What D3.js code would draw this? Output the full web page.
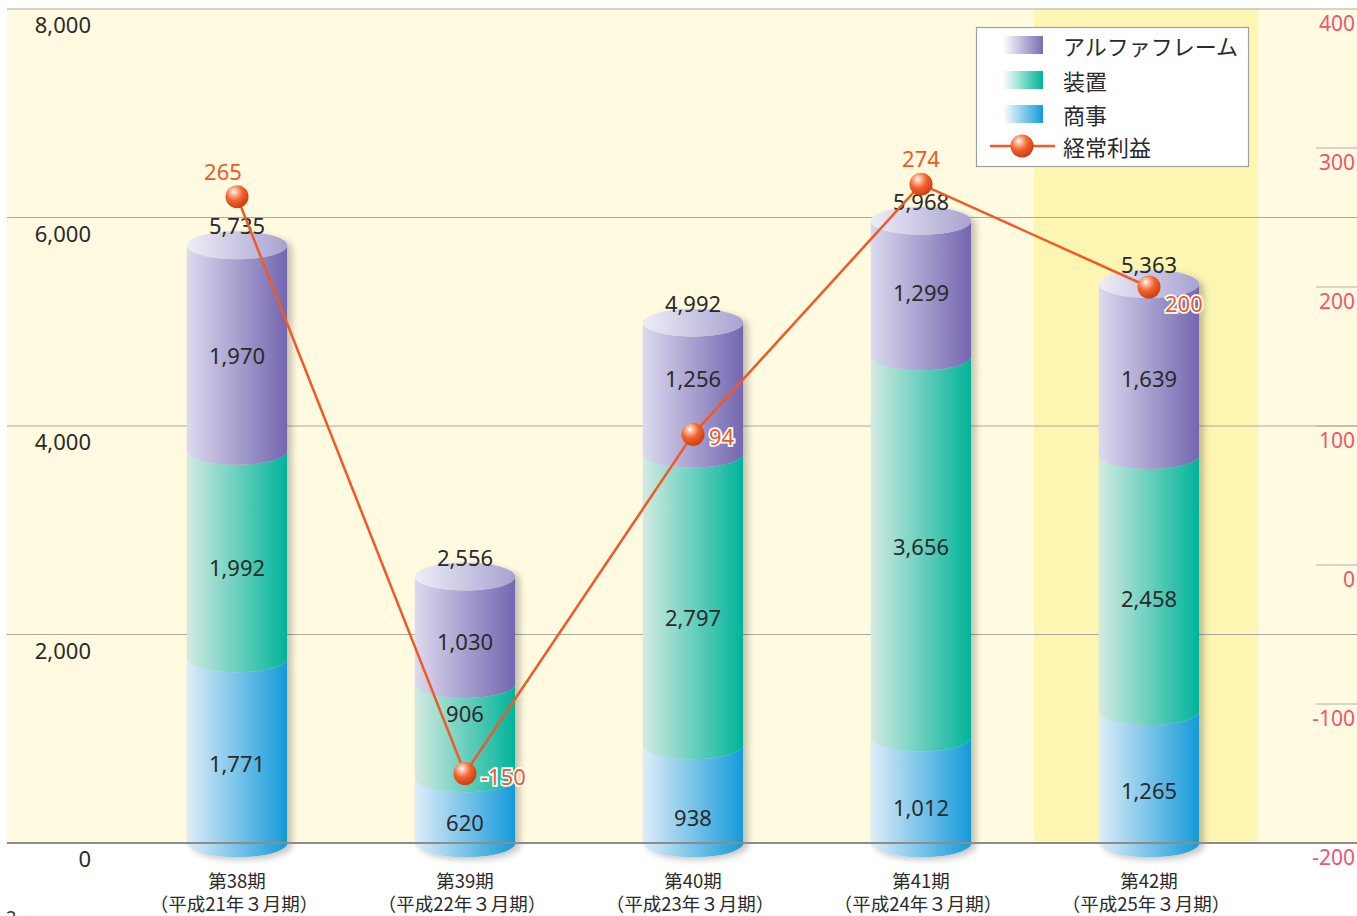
<!DOCTYPE html>
<html><head><meta charset="utf-8">
<script src="https://cdn.jsdelivr.net/npm/d3@7"></script>
<style>
html,body{margin:0;padding:0;background:#fff;}
svg{display:block;}
</style></head>
<body>
<svg id="c" width="1357" height="916"></svg>
<script>
// ---- data ----
const periods = ["第38期","第39期","第40期","第41期","第42期"];
const subLabels = ["（平成21年３月期）","（平成22年３月期）","（平成23年３月期）","（平成24年３月期）","（平成25年３月期）"];
const shoji = [1771, 620, 938, 1012, 1265];        // 商事
const souchi = [1992, 906, 2797, 3656, 2458];      // 装置
const alpha = [1970, 1030, 1256, 1299, 1639];      // アルファフレーム
const totals = [5735, 2556, 4992, 5968, 5363];
const keijo = [265, -150, 94, 274, 200];           // 経常利益
const leftTicks = [0, 2000, 4000, 6000, 8000];
const rightTicks = [-200, -100, 0, 100, 200, 300, 400];
const seriesNames = ["アルファフレーム","装置","商事","経常利益"];
// layout-only: label placement / vertical nudges of segment labels (px)
const profitLabelPlacement = ["top","right","right","top","rightLow"];
const nudgeShoji = [12, 11, 23, 17, 13];
const nudgeSouchi = [12, -18, 18, -1, 15];
const nudgeAlpha = [7, 11, -10, 3, 9];

// ---- layout ----
const svg = d3.select("#c");
const plotL = 7, plotR = 1357, plotT = 9, plotB = 843;
const y = d3.scaleLinear().domain([0, 8000]).range([plotB, plotT]);
const y2 = d3.scaleLinear().domain([-200, 400]).range([plotB, plotT]);
const x = d3.scaleBand().domain(periods).range([123, 1263]).padding(0);
const cx = p => x(p) + x.bandwidth() / 2;
const barW = x.bandwidth() * 0.44, rx = barW / 2, ry = 14;
const numFmt = d3.format(",");
const numFont = "'Noto Sans', 'DejaVu Sans', sans-serif";
const jpFont = "'Noto Sans CJK JP', sans-serif";

const defs = svg.append("defs");
function hGrad(id, c0, c1) {
  const g = defs.append("linearGradient").attr("id", id).attr("x1", "0").attr("x2", "1").attr("y1", "0").attr("y2", "0");
  g.append("stop").attr("offset", "0").attr("stop-color", c0);
  g.append("stop").attr("offset", "1").attr("stop-color", c1);
}
hGrad("gPurple", "#dcdaee", "#7466b0");
hGrad("gTeal", "#d3ebe2", "#00b49a");
hGrad("gBlue", "#deedf9", "#149ad9");
hGrad("gCap", "#eeedf7", "#a7a2d0");
hGrad("lPurple", "#ffffff", "#7a6db4");
hGrad("lTeal", "#ffffff", "#00b49a");
hGrad("lBlue", "#ffffff", "#149ad9");
const rg = defs.append("radialGradient").attr("id", "sphere").attr("cx", "0.38").attr("cy", "0.32").attr("r", "0.68").attr("fx","0.36").attr("fy","0.28");
rg.append("stop").attr("offset", "0").attr("stop-color", "#ffffff");
rg.append("stop").attr("offset", "0.22").attr("stop-color", "#fbb79a");
rg.append("stop").attr("offset", "0.55").attr("stop-color", "#f2622c");
rg.append("stop").attr("offset", "1").attr("stop-color", "#cf3d12");
const sh = defs.append("filter").attr("id", "shadow").attr("x", "-20%").attr("y", "-10%").attr("width", "150%").attr("height", "130%");
sh.append("feDropShadow").attr("dx", 5).attr("dy", 3).attr("stdDeviation", 3).attr("flood-color", "#000").attr("flood-opacity", 0.22);

// background
svg.append("rect").attr("x", plotL).attr("y", plotT).attr("width", plotR - plotL).attr("height", plotB - plotT).attr("fill", "#fffae0");
svg.append("rect").attr("x", x(periods[4]) - 1).attr("y", plotT).attr("width", x.bandwidth() - 4).attr("height", plotB - plotT).attr("fill", "#fdf5b2");

// gridlines
svg.append("g").selectAll("line").data(leftTicks.filter(t => t > 0)).join("line")
  .attr("x1", plotL).attr("x2", plotR).attr("y1", d => y(d)).attr("y2", d => y(d))
  .attr("stroke", "#a9a9a4").attr("stroke-width", 1.2);
// right short ticks
svg.append("g").selectAll("line").data(rightTicks.filter(t => t > -200 && t < 400)).join("line")
  .attr("x1", 1316).attr("x2", plotR).attr("y1", d => y2(d)).attr("y2", d => y2(d))
  .attr("stroke", "#b0b0aa").attr("stroke-width", 1.2);

// left axis labels
svg.append("g").selectAll("text").data(leftTicks).join("text")
  .attr("x", 91).attr("y", d => y(d) + 24).attr("text-anchor", "end")
  .attr("font-family", numFont).attr("font-size", 22).attr("fill", "#2a2a2a")
  .text(d => numFmt(d));
// right axis labels
svg.append("g").selectAll("text").data(rightTicks).join("text")
  .attr("x", 1355).attr("y", d => y2(d) + 22).attr("text-anchor", "end")
  .attr("font-family", numFont).attr("font-size", 21).attr("fill", "#ee5570")
  .text(d => d);

// cylinders
const data = periods.map((p, i) => ({ p, i, segs: [
  { v: shoji[i], fill: "url(#gBlue)", n: nudgeShoji[i] },
  { v: souchi[i], fill: "url(#gTeal)", n: nudgeSouchi[i] },
  { v: alpha[i], fill: "url(#gPurple)", n: nudgeAlpha[i] }
]}));
function segPath(c, yTop, yBot) {
  const l = c - rx, r = c + rx;
  return `M${l},${yTop} A${rx},${ry} 0 0 0 ${r},${yTop} L${r},${yBot} A${rx},${ry} 0 0 1 ${l},${yBot} Z`;
}
const bars = svg.append("g").selectAll("g").data(data).join("g");
bars.each(function(d) {
  const g = d3.select(this);
  const c = cx(d.p);
  const gg = g.append("g").attr("filter", "url(#shadow)");
  let acc = 0;
  const stacks = d.segs.map(s => { const o = { ...s, y0: acc, y1: acc + s.v }; acc += s.v; return o; });
  stacks.forEach(s => {
    gg.append("path").attr("d", segPath(c, y(s.y1), y(s.y0))).attr("fill", s.fill);
  });
  const top = y(acc);
  gg.append("ellipse").attr("cx", c).attr("cy", top).attr("rx", rx).attr("ry", ry).attr("fill", "url(#gCap)");
  stacks.forEach(s => {
    g.append("text").attr("x", c).attr("y", (y(s.y1) + y(s.y0)) / 2 + s.n)
      .attr("text-anchor", "middle").attr("dominant-baseline", "central")
      .attr("font-family", numFont).attr("font-size", 22).attr("fill", "#2a2a2a")
      .text(numFmt(s.v));
  });
  g.append("text").attr("x", c).attr("y", y(totals[d.i]) - 20)
    .attr("text-anchor", "middle").attr("dominant-baseline", "central")
    .attr("font-family", numFont).attr("font-size", 22).attr("fill", "#2a2a2a")
    .text(numFmt(totals[d.i]));
});

// baseline
svg.append("line").attr("x1", plotL).attr("x2", plotR).attr("y1", plotB).attr("y2", plotB)
  .attr("stroke", "#8c8c8c").attr("stroke-width", 2);
// redraw the bottom arcs over baseline
bars.each(function(d) {
  const c = cx(d.p);
  d3.select(this).insert("path", "text")
    .attr("d", `M${c - rx},${plotB} A${rx},${ry} 0 0 0 ${c + rx},${plotB} Z`)
    .attr("fill", "url(#gBlue)");
});

// category labels
const cats = svg.append("g");
cats.selectAll("text.p").data(periods).join("text").attr("class", "p")
  .attr("x", d => cx(d)).attr("y", 888).attr("text-anchor", "middle")
  .attr("font-family", jpFont).attr("font-size", 18.5).attr("fill", "#2a2a2a").text(d => d);
cats.selectAll("text.s").data(subLabels).join("text").attr("class", "s")
  .attr("x", (d, i) => cx(periods[i]) - 3).attr("y", 911).attr("text-anchor", "middle")
  .attr("font-family", jpFont).attr("font-size", 18.5).attr("fill", "#2a2a2a").text(d => d);
svg.append("text").attr("x", 6).attr("y", 924).attr("font-family", numFont).attr("font-size", 18).attr("fill", "#333").text("2");

// profit line
const pts = periods.map((p, i) => ({ x: cx(p), y: y2(keijo[i]), v: keijo[i], pos: profitLabelPlacement[i] }));
svg.append("path").attr("d", d3.line().x(d => d.x).y(d => d.y)(pts))
  .attr("fill", "none").attr("stroke", "#f05a24").attr("stroke-width", 2.5);
svg.append("g").selectAll("circle").data(pts).join("circle")
  .attr("cx", d => d.x).attr("cy", d => d.y).attr("r", 11.5).attr("fill", "url(#sphere)");
svg.append("g").selectAll("text").data(pts).join("text")
  .attr("x", d => d.pos === "top" ? d.x - (d.v === 265 ? 14 : 0) : d.x + 16)
  .attr("y", d => d.pos === "top" ? d.y - 26 : d.pos === "rightLow" ? d.y + 16 : d.y + 2)
  .attr("text-anchor", d => d.pos === "top" ? "middle" : "start")
  .attr("dominant-baseline", "central")
  .attr("font-family", numFont).attr("font-size", 22).attr("fill", "#f05a24")
  .attr("stroke", d => d.pos === "top" ? "none" : "#fff").attr("stroke-width", 3.5)
  .attr("paint-order", "stroke")
  .text(d => d.v);

// legend
const lg = svg.append("g");
lg.append("rect").attr("x", 976.5).attr("y", 27.5).attr("width", 272).attr("height", 139)
  .attr("fill", "#fff").attr("stroke", "#a0a0a0").attr("stroke-width", 1.2);
const swatch = ["url(#lPurple)", "url(#lTeal)", "url(#lBlue)"];
const legY = [45, 80, 114, 146];
seriesNames.forEach((n, i) => {
  if (i < 3) {
    lg.append("rect").attr("x", 1003).attr("y", legY[i] - 9).attr("width", 40).attr("height", 18).attr("fill", swatch[i]);
  } else {
    lg.append("line").attr("x1", 990).attr("x2", 1055).attr("y1", legY[i]).attr("y2", legY[i]).attr("stroke", "#f05a24").attr("stroke-width", 2.5);
    lg.append("circle").attr("cx", 1022).attr("cy", legY[i]).attr("r", 11.5).attr("fill", "url(#sphere)");
  }
  lg.append("text").attr("x", 1063).attr("y", legY[i]).attr("dominant-baseline", "central")
    .attr("font-family", jpFont).attr("font-size", 22).attr("fill", "#2a2a2a").text(n);
});
</script>
</body></html>
